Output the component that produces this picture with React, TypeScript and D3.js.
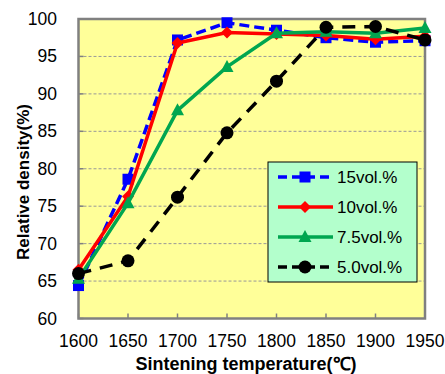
import React from "react";
import * as d3 from "d3";

const temps = [1600, 1650, 1700, 1750, 1800, 1850, 1900, 1950];
const s15 = [64.4, 78.6, 97.2, 99.5, 98.5, 97.5, 96.9, 97.1];
const s10 = [66.5, 76.3, 96.8, 98.2, 98.0, 97.8, 97.3, 97.7];
const s75 = [65.3, 75.4, 87.8, 93.6, 98.1, 98.3, 98.1, 98.8];
const s50 = [66.0, 67.7, 76.2, 84.8, 91.7, 98.9, 99.0, 97.2];
const yTicks = [60, 65, 70, 75, 80, 85, 90, 95, 100];
const seriesNames = ["15vol.%", "10vol.%", "7.5vol.%", "5.0vol.%"];

const W = 445, H = 374;
const L = 78.5, R = 425, T = 19, B = 318.5;
const FONT = "'Liberation Sans', Arial, sans-serif";

const x = d3.scaleLinear().domain([1600, 1950]).range([L, R]);
const y = d3.scaleLinear().domain([60, 100]).range([B, T]);

type S = { name: string; vals: number[]; color: string; dash?: string; marker: string };
const series: S[] = [
  { name: seriesNames[0], vals: s15, color: "#0000ff", dash: "10,5", marker: "square" },
  { name: seriesNames[1], vals: s10, color: "#ff0000", marker: "diamond" },
  { name: seriesNames[2], vals: s75, color: "#00a650", marker: "triangle" },
  { name: seriesNames[3], vals: s50, color: "#000000", dash: "13,9", marker: "circle" },
];

function Marker({ type, cx, cy, color }: { type: string; cx: number; cy: number; color: string }) {
  if (type === "square") return <rect x={cx - 5.5} y={cy - 5.5} width={11} height={11} fill={color} />;
  if (type === "diamond") return <path d={`M${cx},${cy - 6}L${cx + 6},${cy}L${cx},${cy + 6}L${cx - 6},${cy}Z`} fill={color} />;
  if (type === "triangle") return <path d={`M${cx},${cy - 7}L${cx + 6.5},${cy + 5}L${cx - 6.5},${cy + 5}Z`} fill={color} />;
  return <circle cx={cx} cy={cy} r={6.5} fill={color} />;
}

export default function App() {
  const line = d3.line<number>().x((_, i) => x(temps[i])).y((v) => y(v));
  const legX = 268, legY = 162, legW = 149, legH = 120;
  return (
    <svg width={W} height={H} style={{ position: "absolute", left: 0, top: 0 }}>
      <rect x={0} y={0} width={W} height={H} fill="#fff" />
      <rect x={L} y={T} width={R - L} height={B - T} fill="#ffff99" />
      {yTicks.filter((t) => t !== 60 && t !== 100).map((t) => (
        <line key={t} x1={L} x2={R} y1={y(t)} y2={y(t)} stroke="#999" strokeWidth={1} strokeDasharray="3,2" />
      ))}
      {yTicks.map((t) => (
        <line key={"yt" + t} x1={L} x2={L + 5} y1={y(t)} y2={y(t)} stroke="#808080" strokeWidth={1.5} />
      ))}
      {temps.map((t) => (
        <line key={"xt" + t} x1={x(t)} x2={x(t)} y1={B} y2={B - 5} stroke="#808080" strokeWidth={1.5} />
      ))}
      <rect x={L} y={T} width={R - L} height={B - T} fill="none" stroke="#808080" strokeWidth={2.5} />
      {series.map((s) => (
        <g key={s.name}>
          <path d={line(s.vals) || ""} fill="none" stroke={s.color} strokeWidth={3.5} strokeDasharray={s.dash} />
          {s.vals.map((v, i) => (
            <Marker key={i} type={s.marker} cx={x(temps[i])} cy={y(v)} color={s.color} />
          ))}
        </g>
      ))}
      {yTicks.map((t) => (
        <text key={"yl" + t} x={57} y={y(t) + 6} textAnchor="end" fontFamily={FONT} fontSize={17.5} fill="#000">
          {t}
        </text>
      ))}
      {temps.map((t) => (
        <text key={"xl" + t} x={x(t)} y={347} textAnchor="middle" fontFamily={FONT} fontSize={17.5} fill="#000">
          {t}
        </text>
      ))}
      <text x={246} y={370} textAnchor="middle" fontFamily={FONT} fontSize={18} fontWeight="bold">
        Sintening temperature(℃)
      </text>
      <text transform={`translate(29,182) rotate(-90)`} textAnchor="middle" fontFamily={FONT} fontSize={17} fontWeight="bold">
        Relative density(%)
      </text>
      <rect x={legX} y={legY} width={legW} height={legH} fill="#b3ffcc" stroke="#000" strokeWidth={1} />
      {series.map((s, i) => {
        const cy = 177 + i * 30;
        return (
          <g key={"lg" + i}>
            <line x1={278} x2={333} y1={cy} y2={cy} stroke={s.color} strokeWidth={3.5} strokeDasharray={s.dash ? "9,5" : undefined} />
            <Marker type={s.marker} cx={305} cy={cy} color={s.color} />
            <text x={337} y={cy + 6} fontFamily={FONT} fontSize={17} fill="#000">
              {s.name}
            </text>
          </g>
        );
      })}
    </svg>
  );
}
